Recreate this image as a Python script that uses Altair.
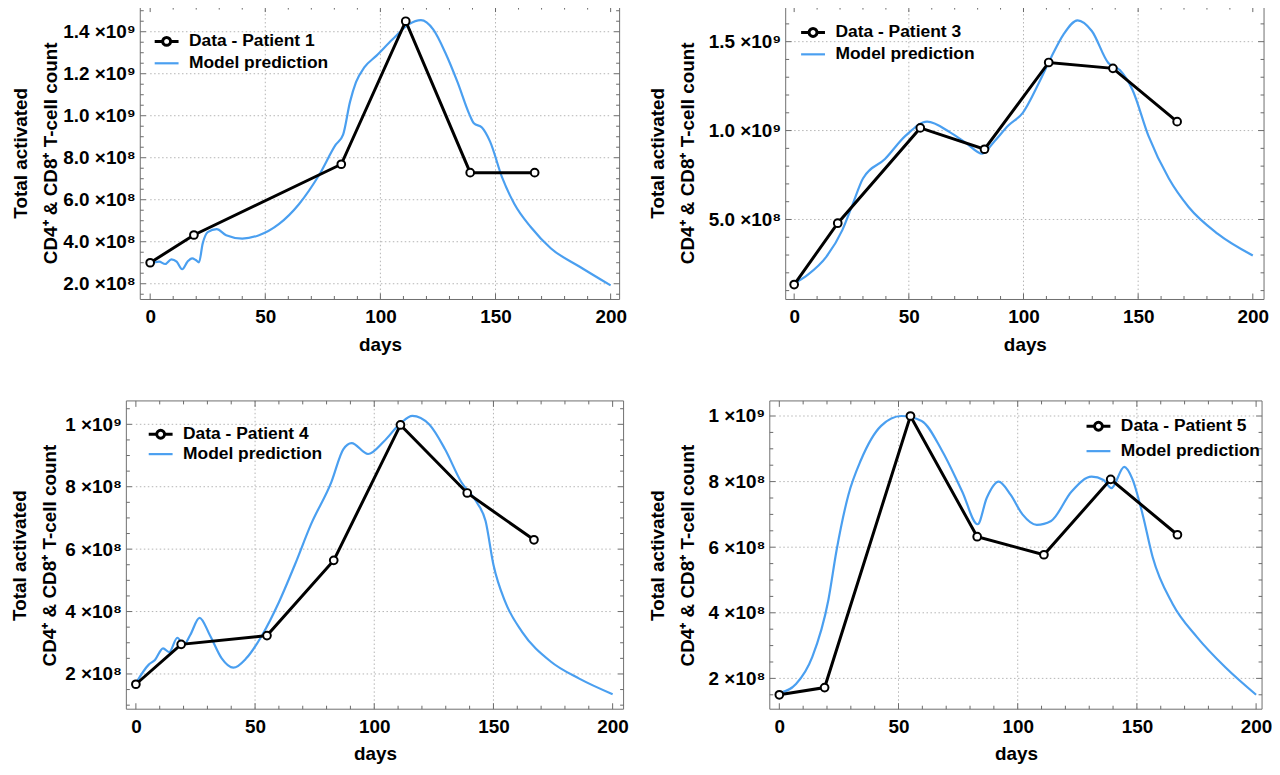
import altair as alt
import numpy as np
import pandas as pd

FONT = "Liberation Sans"
BLUE = "#4a9ff0"
GRID = "#b4b4b4"
TICK = "#6a6a6a"
FRAME = "#6f6f6f"

Y_TITLE = ["Total activated", "CD4⁺ & CD8⁺ T-cell count"]
X_TITLE = "days"
MODEL_LABEL = "Model prediction"
X_MAJOR = [0, 50, 100, 150, 200]
X_GRID = [50, 100, 150]

# ---------------- Patient 1 ----------------
p1_days = [0, 19, 83, 111, 139, 167]
p1_vals = [3.0e8, 4.32e8, 7.69e8, 1.45e9, 7.29e8, 7.29e8]
p1_mdays = [0, 3.9, 6.5, 9.2, 11.5, 13.9, 16.2, 18.2, 19.8, 21.2, 22.8, 25, 28.9, 33, 40, 47,
            56, 64.7, 73.5, 80.6, 83.8, 86.8, 89.4, 93, 98.2, 105.3, 112.3, 117.6, 123,
            128.2, 133.5, 138.8, 140.6, 144.1, 147.6, 152.9, 158.2, 165.3, 174.1, 186.4, 200]
p1_mvals = [2.97e8, 3.05e8, 2.94e8, 3.16e8, 3.05e8, 2.69e8, 3.05e8, 3.21e8, 3.13e8, 3.02e8,
            3.91e8, 4.46e8, 4.6e8, 4.31e8, 4.15e8, 4.3e8, 4.85e8, 5.8e8, 7.2e8, 8.62e8, 9.1e8,
            10.66e8, 11.6e8, 12.3e8, 12.85e8, 13.64e8, 14.35e8, 14.55e8, 14.1e8, 13.0e8,
            11.6e8, 10.03e8, 9.64e8, 9.44e8, 8.78e8, 7.05e8, 5.8e8, 4.7e8, 3.68e8, 2.82e8, 1.92e8]
p1_yticks = [2e8, 4e8, 6e8, 8e8, 1.0e9, 1.2e9, 1.4e9]

# ---------------- Patient 3 ----------------
p3_days = [0, 19, 55, 83, 111, 139, 167]
p3_vals = [1.34e8, 4.79e8, 1.015e9, 8.95e8, 1.383e9, 1.35e9, 1.05e9]
p3_mdays = [0, 6, 14, 21, 25.5, 30, 39.6, 48.5, 58, 68, 75, 82, 87, 93.5, 99.7, 106.8, 112,
            117.4, 123.6, 129.8, 137, 142, 147.5, 154.5, 163.4, 172, 184.6, 200]
p3_mvals = [1.4e8, 1.9e8, 2.9e8, 4.4e8, 5.85e8, 7.3e8, 8.4e8, 9.7e8, 10.5e8, 9.9e8, 9.3e8,
            8.7e8, 9.35e8, 10.3e8, 11.0e8, 12.7e8, 14.1e8, 15.4e8, 16.2e8, 15.6e8, 13.8e8,
            13.4e8, 12.3e8, 9.7e8, 7.3e8, 5.7e8, 4.2e8, 2.97e8]
p3_yticks = [5e8, 1.0e9, 1.5e9]

# ---------------- Patient 4 ----------------
p4_days = [0, 19, 55, 83, 111, 139, 167]
p4_vals = [1.67e8, 2.95e8, 3.23e8, 5.64e8, 9.98e8, 7.8e8, 6.3e8]
p4_mdays = [0, 5.4, 8, 11.4, 14, 17.4, 20, 22.8, 26.7, 31, 36, 40.9, 46.3, 53, 60, 66.7,
            73.5, 82, 87, 90.5, 97.4, 104, 111, 116, 123, 129.7, 136.5, 143, 146.7, 150,
            155, 162, 174, 186, 200]
p4_mvals = [1.7e8, 2.3e8, 2.45e8, 2.82e8, 2.7e8, 3.16e8, 2.93e8, 3.25e8, 3.8e8, 3.25e8,
            2.5e8, 2.2e8, 2.5e8, 3.25e8, 4.3e8, 5.5e8, 6.8e8, 8.15e8, 9.2e8, 9.4e8, 9.05e8,
            9.45e8, 10.03e8, 10.27e8, 10.0e8, 9.2e8, 8.15e8, 7.5e8, 6.9e8, 5.5e8, 4.3e8,
            3.35e8, 2.4e8, 1.85e8, 1.35e8]
p4_yticks = [2e8, 4e8, 6e8, 8e8, 1e9]

# ---------------- Patient 5 ----------------
p5_days = [0, 19, 55, 83, 111, 139, 167]
p5_vals = [1.5e8, 1.72e8, 1.0e9, 6.32e8, 5.77e8, 8.07e8, 6.38e8]
p5_mdays = [0, 7, 13.8, 20.6, 24, 29, 34.2, 42.7, 51.2, 59.7, 68.2, 76.7, 83.2, 87, 92, 97,
            102, 108, 114, 122.6, 131, 136, 139.3, 144.7, 148, 152.4, 156.6, 165, 175.3,
            187.2, 200]
p5_mvals = [1.55e8, 1.83e8, 2.65e8, 4.4e8, 5.9e8, 7.6e8, 8.65e8, 9.7e8, 10.0e8, 9.85e8,
            8.95e8, 7.7e8, 6.7e8, 7.5e8, 8.0e8, 7.6e8, 7.0e8, 6.68e8, 6.8e8, 7.7e8, 8.15e8,
            8.05e8, 7.8e8, 8.45e8, 8.1e8, 7.0e8, 5.7e8, 4.27e8, 3.25e8, 2.33e8, 1.5e8]
p5_yticks = [2e8, 4e8, 6e8, 8e8, 1e9]

DATA_SYMBOL = ("M-1,0H-0.33M0.33,0H1M0.33,0A0.33,0.33 0 1,1 -0.33,0"
               "A0.33,0.33 0 1,1 0.33,0")

EXPR_DEC = ("datum.value >= 1e9 ? format(datum.value/1e9, '.1f') + ' ×10⁹' : "
            "format(datum.value/1e8, '.1f') + ' ×10⁸'")
EXPR_INT = ("datum.value >= 1e9 ? format(datum.value/1e9, 'd') + ' ×10⁹' : "
            "format(datum.value/1e8, 'd') + ' ×10⁸'")


def minor_list(lo, hi, step, majors):
    vals = np.arange(np.ceil(lo / step) * step, hi + 1, step)
    return [float(v) for v in vals if all(abs(v - m) > step / 10 for m in majors)]


def panel(name, d_days, d_vals, m_days, m_vals, xdom, ydom, yticks, ystep, expr,
          W, H, pad, ext, leg_x, leg_y1, leg_y2):
    """W: total view width; the drawn frame starts `pad` px right of the view origin."""
    xs = alt.Scale(domain=xdom, nice=False, zero=False)
    ys = alt.Scale(domain=ydom, nice=False, zero=False)
    xax = alt.Axis(values=X_MAJOR, format="d", labelPadding=8, titlePadding=9,
                   labelFlush=False, grid=False, ticks=False, domain=False,
                   titleX=pad + (W - pad) / 2)
    yax = alt.Axis(values=yticks, labelExpr=expr, labelPadding=5, titlePadding=7,
                   minExtent=ext, maxExtent=ext, titleLineHeight=30, offset=-pad,
                   grid=False, ticks=False, domain=False)

    def X(f):
        return alt.X(f, scale=xs, axis=xax, title=X_TITLE)

    def Y(f):
        return alt.Y(f, scale=ys, axis=yax, title=Y_TITLE)

    model = pd.DataFrame({"day": m_days, "value": m_vals, "series": MODEL_LABEL})
    data = pd.DataFrame({"day": d_days, "value": d_vals, "series": name})

    layers = []
    # grid lines
    hgrid = pd.DataFrame({"t": yticks, "x0": 0, "x1": 200})
    layers.append(alt.Chart(hgrid).mark_rule(color=GRID, strokeWidth=1, strokeDash=[1.5, 2.5]).encode(
        y=Y("t:Q"), x=X("x0:Q"), x2="x1:Q"))
    vgrid = pd.DataFrame({"t": X_GRID})
    layers.append(alt.Chart(vgrid).mark_rule(color=GRID, strokeWidth=1, strokeDash=[1.5, 2.5]).encode(
        x=X("t:Q"), y=alt.value(0), y2=alt.value(H)))

    # frame
    layers.append(alt.Chart(pd.DataFrame({"k": [0]})).mark_rect(
        fillOpacity=0, stroke=FRAME, strokeWidth=1).encode(
        x=alt.value(pad), x2=alt.value(W), y=alt.value(0), y2=alt.value(H)))

    # frame ticks (inside)
    x_minor = minor_list(0, 200, 10, X_MAJOR)
    y_minor = minor_list(ydom[0], ydom[1], ystep, yticks)
    for vals, L in [(X_MAJOR, 6), (x_minor, 3.5)]:
        df = pd.DataFrame({"t": vals})
        b = alt.Chart(df).mark_rule(color=TICK, strokeWidth=1)
        layers.append(b.encode(x=X("t:Q"), y=alt.value(H), y2=alt.value(H - L)))
        layers.append(b.encode(x=X("t:Q"), y=alt.value(0), y2=alt.value(L)))
    for vals, L in [(yticks, 6), (y_minor, 3.5)]:
        df = pd.DataFrame({"t": vals})
        b = alt.Chart(df).mark_rule(color=TICK, strokeWidth=1)
        layers.append(b.encode(y=Y("t:Q"), x=alt.value(pad), x2=alt.value(pad + L)))
        layers.append(b.encode(y=Y("t:Q"), x=alt.value(W - L), x2=alt.value(W)))

    leg_common = dict(title=None, orient="none", padding=0, labelFont=FONT, labelFontSize=17.5,
                      labelFontWeight="bold", labelColor="black", labelOffset=9, labelLimit=400,
                      symbolSize=576)

    layers.append(alt.Chart(model).mark_line(strokeWidth=2.2, interpolate="monotone").encode(
        x=X("day:Q"), y=Y("value:Q"),
        stroke=alt.Stroke("series:N", scale=alt.Scale(domain=[MODEL_LABEL], range=[BLUE]),
                          legend=alt.Legend(legendX=pad + leg_x, legendY=leg_y2 - 12,
                                            symbolType="stroke", symbolStrokeWidth=2.2,
                                            **leg_common)),
    ))

    layers.append(alt.Chart(data).mark_line(
        strokeWidth=3, color="black",
        point=alt.OverlayMarkDef(filled=False, fill="white", size=60, strokeWidth=2, opacity=1),
    ).encode(
        x=X("day:Q"), y=Y("value:Q"),
        color=alt.Color("series:N", scale=alt.Scale(domain=[name], range=["black"]),
                        legend=alt.Legend(legendX=pad + leg_x, legendY=leg_y1 - 12,
                                          symbolType=DATA_SYMBOL, symbolStrokeWidth=3,
                                          symbolFillColor="white", **leg_common)),
    ))

    return alt.layer(*layers).properties(width=W, height=H).resolve_scale(
        color="independent", stroke="independent")


p1 = panel("Data - Patient 1", p1_days, p1_vals, p1_mdays, p1_mvals, [-10.35, 203.9],
           [1.25e8, 1.522e9], p1_yticks, 5e7, EXPR_DEC, 496, 295, 14, 73, 13, 34, 56)
p3 = panel("Data - Patient 3", p3_days, p3_vals, p3_mdays, p3_mvals, [-8.9, 204.9],
           [5.0e7, 1.7e9], p3_yticks, 1e8, EXPR_DEC, 493, 295, 12, 82, 14, 25, 47)
p4 = panel("Data - Patient 4", p4_days, p4_vals, p4_mdays, p4_mvals, [-4.0, 204.6],
           [8.7e7, 1.075e9], p4_yticks, 5e7, EXPR_INT, 500, 310, 0, 60, 21, 32, 52)
p5 = panel("Data - Patient 5", p5_days, p5_vals, p5_mdays, p5_mvals, [-4.0, 202.5],
           [1.06e8, 1.046e9], p5_yticks, 5e7, EXPR_INT, 495, 310, 0, 66, 495 - 178, 24, 49)

chart = alt.concat(
    p1, p3, p4, p5, columns=2, align="none", spacing={"row": 46, "column": 20}
).resolve_scale(
    color="independent", stroke="independent"
).properties(
    padding={"left": 3, "top": -5, "right": 0, "bottom": 0}
).configure_view(
    stroke="transparent", strokeWidth=0
).configure_axis(
    labelFont=FONT, titleFont=FONT, labelFontSize=19, titleFontSize=19,
    labelFontWeight="bold", titleFontWeight="bold", labelColor="black", titleColor="black"
)

chart.save("out.html", embed_options={"renderer": "svg", "actions": False})
